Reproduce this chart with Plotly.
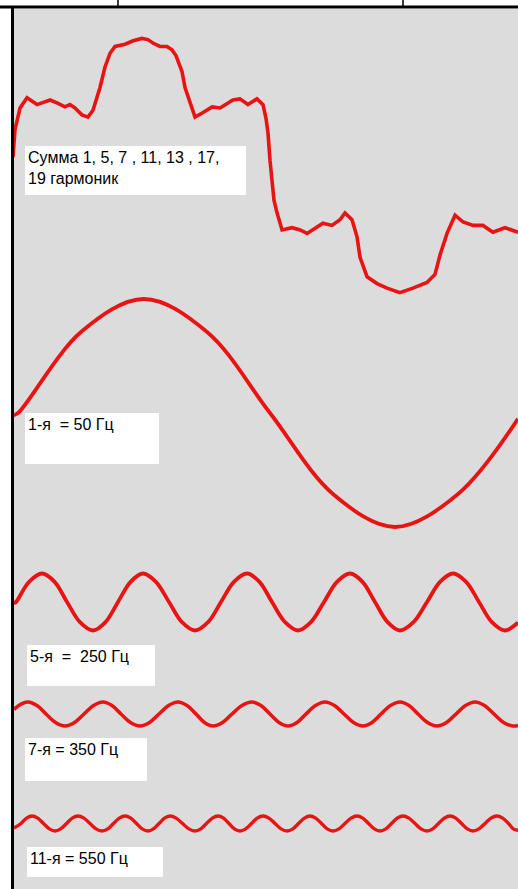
import plotly.graph_objects as go

# ---------------- data (time in ms, amplitude in units of the 1st harmonic) ----------------
sum_t = [-0.24, -0.16, 0.04, 0.24, 0.32, 0.72, 1.24, 1.56, 1.83, 2.03, 2.23, 2.51, 2.75, 2.95,
         3.11, 3.23, 3.43, 3.63, 3.83, 4.23, 4.55, 4.90, 5.14, 5.34, 5.62, 5.90, 6.10, 6.26,
         6.38, 6.50, 6.62, 6.74, 6.86, 7.02, 7.34, 7.70, 8.02, 8.53, 8.81, 9.13, 9.49, 9.73,
         9.85, 9.93, 10.01, 10.09, 10.17, 10.29, 10.49, 10.89, 11.21, 11.49, 11.88, 12.12,
         12.48, 12.80, 13.00, 13.28, 13.48, 13.60, 13.88, 14.28, 14.68, 15.19, 15.71, 16.27,
         16.59, 16.79, 17.07, 17.39, 17.71, 18.11, 18.50, 18.90, 19.38, 19.90]
sum_v = [0.07, 0.31, 0.50, 0.57, 0.59, 0.53, 0.57, 0.54, 0.51, 0.53, 0.50, 0.44, 0.42, 0.48,
         0.59, 0.68, 0.86, 0.98, 1.04, 1.06, 1.09, 1.11, 1.10, 1.07, 1.04, 1.04, 1.01, 0.96,
         0.89, 0.82, 0.68, 0.60, 0.51, 0.42, 0.46, 0.51, 0.50, 0.57, 0.58, 0.53, 0.58, 0.53,
         0.41, 0.28, 0.04, -0.18, -0.31, -0.42, -0.57, -0.55, -0.57, -0.60, -0.54, -0.51,
         -0.53, -0.48, -0.42, -0.48, -0.63, -0.81, -0.98, -1.04, -1.08, -1.12, -1.08, -1.03,
         -0.96, -0.79, -0.60, -0.44, -0.50, -0.53, -0.53, -0.59, -0.55, -0.59]

h1_t = [-0.24, -0.04, 2.47, 4.98, 7.50, 10.01, 12.52, 14.99, 17.51, 19.90]
h1_v = [-0.02, 0.0, 0.71, 1.0, 0.71, 0.0, -0.71, -1.0, -0.71, -0.05]

h5_t = [-0.20, -0.12, 0.40, 0.917, 1.42, 1.914, 2.43, 2.951, 3.45, 3.948, 4.45, 4.945, 5.46,
        5.981, 6.50, 7.018, 7.54, 8.055, 8.57, 9.092, 9.59, 10.089, 10.61, 11.126, 11.64,
        12.163, 12.68, 13.200, 13.70, 14.197, 14.70, 15.194, 15.73, 16.271, 16.79, 17.308,
        17.83, 18.345, 18.86, 19.381, 19.90]
h5_v = [-0.01, 0.0, 0.177, 0.25, 0.177, 0.0, -0.177, -0.25, -0.177, 0.0, 0.177, 0.25, 0.177,
        0.0, -0.177, -0.25, -0.177, 0.0, 0.177, 0.25, 0.177, 0.0, -0.177, -0.25, -0.177,
        0.0, 0.177, 0.25, 0.177, 0.0, -0.177, -0.25, -0.177, 0.0, 0.177, 0.25,
        0.177, 0.0, -0.177, -0.25, -0.18]

h7_t = [-0.20, 0.08, 0.358, 0.717, 1.076, 1.455, 1.834, 2.213, 2.592, 2.970, 3.349, 3.708,
        4.067, 4.446, 4.825, 5.204, 5.583, 5.962, 6.340, 6.699, 7.058, 7.397, 7.736, 8.115,
        8.494, 8.893, 9.292, 9.650, 10.009, 10.368, 10.727, 11.086, 11.445, 11.824, 12.203,
        12.582, 12.961, 13.340, 13.718, 14.077, 14.436, 14.815, 15.194, 15.553, 15.912,
        16.291, 16.669, 17.048, 17.427, 17.806, 18.185, 18.564, 18.943, 19.322, 19.700, 19.90]
h7_v = [0.04, 0.087, 0.105, 0.074, 0.0, -0.074, -0.105, -0.074, 0.0, 0.074, 0.105, 0.074,
        0.0, -0.074, -0.105, -0.074, 0.0, 0.074, 0.105, 0.074, 0.0, -0.074, -0.105, -0.074,
        0.0, 0.074, 0.105, 0.074, 0.0, -0.074, -0.105, -0.074, 0.0, 0.074, 0.105,
        0.074, 0.0, -0.074, -0.105, -0.074, 0.0, 0.074, 0.105, 0.074, 0.0,
        -0.074, -0.105, -0.074, 0.0, 0.074, 0.105, 0.074, 0.0, -0.074, -0.105, -0.10]

h11_t = [-0.20, 0.079, 0.30, 0.518, 0.75, 0.976, 1.21, 1.435, 1.66, 1.894, 2.12, 2.352, 2.59,
         2.831, 3.07, 3.309, 3.54, 3.768, 4.00, 4.227, 4.46, 4.685, 4.91, 5.144, 5.36, 5.583,
         5.80, 6.021, 6.27, 6.520, 6.77, 7.018, 7.25, 7.477, 7.71, 7.936, 8.16, 8.374, 8.59,
         8.813, 9.04, 9.272, 9.50, 9.730, 9.97, 10.209, 10.45, 10.687, 10.92, 11.146, 11.38,
         11.605, 11.83, 12.063, 12.29, 12.522, 12.76, 13.000, 13.24, 13.479, 13.71, 13.938,
         14.17, 14.396, 14.63, 14.855, 15.08, 15.314, 15.55, 15.792, 16.03, 16.271, 16.50,
         16.729, 16.96, 17.188, 17.42, 17.647, 17.88, 18.105, 18.34, 18.584, 18.82, 19.062,
         19.29, 19.521, 19.71, 19.90]
h11_v = [-0.04, 0.0, 0.047, 0.066, 0.047, 0.0, -0.047, -0.066, -0.047, 0.0, 0.047, 0.066, 0.047,
         0.0, -0.047, -0.066, -0.047, 0.0, 0.047, 0.066, 0.047, 0.0, -0.047, -0.066, -0.047, 0.0,
         0.047, 0.066, 0.047, 0.0, -0.047, -0.066, -0.047, 0.0, 0.047, 0.066, 0.047, 0.0, -0.047,
         -0.066, -0.047, 0.0, 0.047, 0.066, 0.047, 0.0, -0.047, -0.066, -0.047, 0.0, 0.047,
         0.066, 0.047, 0.0, -0.047, -0.066, -0.047, 0.0, 0.047, 0.066, 0.047, 0.0,
         -0.047, -0.066, -0.047, 0.0, 0.047, 0.066, 0.047, 0.0, -0.047, -0.066, -0.047,
         0.0, 0.047, 0.066, 0.047, 0.0, -0.047, -0.066, -0.047, 0.0, 0.047, 0.066,
         0.047, 0.0, -0.047, -0.06]

labels = ["Сумма 1, 5, 7 , 11, 13 , 17,<br>19 гармоник",
          "1-я \u00a0= 50 Гц",
          "5-я \u00a0= \u00a0250 Гц",
          "7-я = 350 Гц",
          "11-я = 550 Гц"]

# ---------------- layout geometry ----------------
W, H = 518, 889
ML, MT = 14, 9
PW, PH = W - ML, H - MT
PX_PER_UNIT = 114.0
RED = "rgb(232,20,20)"
GRAY = "rgb(220,220,220)"
FONT = "Liberation Sans, Arial, sans-serif"
FSIZE = 16

# strip (center px, half-height px) for each wave
strips = [(165, 150), (413, 125), (602, 45), (714, 30), (823.5, 20)]


def py(px):
    return 1 - (px - MT) / PH


def pxx(px):
    return (px - ML) / PW


series = [(sum_t, sum_v, "linear", 3.6), (h1_t, h1_v, "spline", 3.8), (h5_t, h5_v, "spline", 3.8),
          (h7_t, h7_v, "spline", 3.6), (h11_t, h11_v, "spline", 3.4)]

fig = go.Figure()
layout_axes = {}
for i, ((t, v, shape, w), (c, h)) in enumerate(zip(series, strips)):
    name = "y" if i == 0 else f"y{i+1}"
    fig.add_trace(go.Scatter(x=t, y=v, mode="lines", xaxis="x", yaxis=name,
                             line=dict(color=RED, width=w, shape=shape, smoothing=1.0),
                             hoverinfo="skip", showlegend=False))
    key = "yaxis" if i == 0 else f"yaxis{i+1}"
    layout_axes[key] = dict(domain=[py(c + h), py(c - h)], range=[-h / PX_PER_UNIT, h / PX_PER_UNIT],
                            visible=False, fixedrange=True, anchor="x")

fig.update_layout(
    width=W, height=H,
    margin=dict(l=ML, r=0, t=MT, b=0, pad=0),
    paper_bgcolor="white",
    plot_bgcolor="rgba(0,0,0,0)",
    xaxis=dict(range=[-0.2, 19.9], visible=False, fixedrange=True),
    **layout_axes,
)

# label boxes: (left px, top px, right px, bottom px)
boxes = [(25, 146, 246, 195), (25, 413, 159, 464), (27, 645, 155, 686), (25, 738, 147, 781), (27, 847, 163, 877)]
pad = 3
annotations = []
for (l, t, r, b), txt in zip(boxes, labels):
    annotations.append(dict(xref="paper", yref="paper", x=pxx(l), y=py(t), xanchor="left", yanchor="top",
                            text=txt, showarrow=False, align="left", valign="top",
                            width=(r - l) - 2 * pad, height=(b - t) - 2 * pad, borderpad=pad,
                            bgcolor="white", borderwidth=0,
                            font=dict(family=FONT, size=FSIZE, color="black")))
fig.update_layout(annotations=annotations)

shapes = [
    # gray panel behind all waves
    dict(type="rect", xref="paper", yref="paper", x0=0, x1=1, y0=0, y1=1, layer="below",
         fillcolor=GRAY, line=dict(width=0)),
    # top frame line
    dict(type="line", xref="paper", yref="paper", x0=pxx(0), x1=1.0, y0=py(7), y1=py(7),
         line=dict(color="black", width=3)),
    # left frame line
    dict(type="line", xref="paper", yref="paper", x0=pxx(12.5), x1=pxx(12.5), y0=0, y1=py(6),
         line=dict(color="black", width=3)),
    # small table ticks at the top
    dict(type="line", xref="paper", yref="paper", x0=pxx(118), x1=pxx(118), y0=py(0), y1=py(6),
         line=dict(color="black", width=1.5)),
    dict(type="line", xref="paper", yref="paper", x0=pxx(403), x1=pxx(403), y0=py(0), y1=py(6),
         line=dict(color="black", width=1.5)),
]
fig.update_layout(shapes=shapes)

fig.write_html("out.html", config={"displayModeBar": False},
               post_script="document.body.style.margin='0px';")
